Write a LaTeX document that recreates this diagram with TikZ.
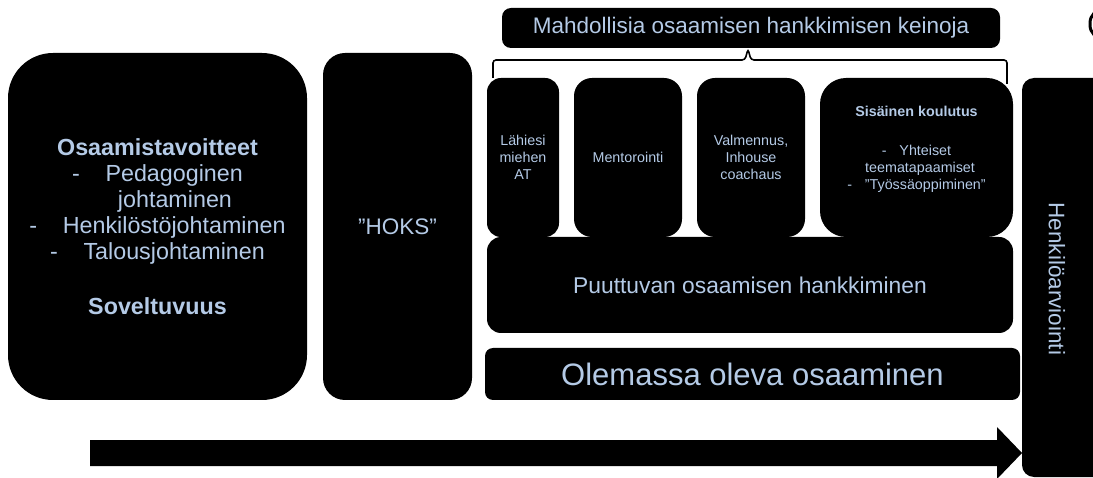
\documentclass[tikz,border=0pt]{standalone}
\usepackage{fontspec}
\setmainfont{Liberation Sans}
\usepackage{xcolor}
\usepackage{tikz}
\usetikzlibrary{positioning}
\definecolor{tekstisini}{RGB}{180,202,230}

\begin{document}
\begin{tikzpicture}[x=1pt, y=-1pt,
    laatikko/.style={fill=black, text=tekstisini, align=center, inner sep=0pt},
    pieni/.style={font=\fontsize{14.3}{17}\selectfont},
    ]
    % 1. Rajaus
    \clip (0,0) rectangle (1093,478);
    \fill[white] (0,0) rectangle (1093,478);

    % 2. Vasen laatikko ja HOKS
    \node[laatikko, rounded corners=45pt, minimum width=299pt, minimum height=347pt,
        font=\fontsize{23.3}{26}\selectfont] (tavoitteet) at (157.5,226.5)
        {{\bfseries Osaamistavoitteet}\\
         -\hspace{1.1em}Pedagoginen\\
         \hspace{1.5em}johtaminen\\
         -\hspace{1.1em}Henkilöstöjohtaminen\\
         -\hspace{1.1em}Talousjohtaminen\\[29pt]
         {\bfseries Soveltuvuus}};
    \node[laatikko, rounded corners=22pt, minimum width=149pt, minimum height=347pt,
        font=\fontsize{22.5}{26}\selectfont] (hoks) at (397.5,226.5) {”HOKS”};

    % 3. Keinot ja sulje
    \node[laatikko, rounded corners=9pt, minimum width=498pt, minimum height=40pt,
        font=\fontsize{22.5}{26}\selectfont] (keinoja) at (751,28)
        {Mahdollisia osaamisen hankkimisen keinoja};
    \draw[line width=1.6pt, rounded corners=3pt]
        (493,78) -- (493,60) -- (745,60) -- (748,49) -- (751,60) -- (1007,60) -- (1007,84);

    \node[laatikko, pieni, rounded corners=14pt, minimum width=72pt, minimum height=159pt]
        (lahiesi) at (523,157.5) {Lähiesi\\miehen\\AT};
    \node[laatikko, pieni, rounded corners=18pt, minimum width=108pt, minimum height=159pt]
        (mentorointi) at (628,157.5) {Mentorointi};
    \node[laatikko, pieni, rounded corners=18pt, minimum width=108pt, minimum height=159pt]
        (valmennus) at (751,157.5) {Valmennus,\\Inhouse\\coachaus};
    \node[laatikko, pieni, rounded corners=26pt, minimum width=193pt, minimum height=159pt]
        (sisainen) at (916.5,157.5) {};
    \node[pieni, text=tekstisini, align=center, inner sep=0pt, below=28pt of sisainen.north]
        (koulutus) {{\bfseries Sisäinen koulutus}\\[22pt]
         -\hspace{0.9em}Yhteiset\\
         \hspace{0.5em}teematapaamiset\\
         -\hspace{0.9em}”Työssäoppiminen”};

    % 4. Osaaminen
    \node[laatikko, rounded corners=14pt, minimum width=526pt, minimum height=96pt,
        font=\fontsize{22.8}{26}\selectfont] (puuttuva) at (750,285)
        {Puuttuvan osaamisen hankkiminen};
    \node[laatikko, rounded corners=8pt, minimum width=535pt, minimum height=52pt,
        font=\fontsize{31}{35}\selectfont] (olemassa) at (752.5,374)
        {Olemassa oleva osaaminen};

    % 5. Henkilöarviointi ja nuoli
    \fill[rounded corners=12pt] (1022,78) rectangle (1112,477);
    \node[text=tekstisini, rotate=-90, font=\fontsize{22.5}{26}\selectfont] (arviointi)
        at (1057,279) {Henkilöarviointi};
    \draw[line width=3pt, rounded corners=14pt] (1090,9) rectangle (1150,39);
    \fill (90,440) -- (997,440) -- (997,427) -- (1022,453) -- (997,479) -- (997,466) -- (90,466) -- cycle;

\end{tikzpicture}
\end{document}
